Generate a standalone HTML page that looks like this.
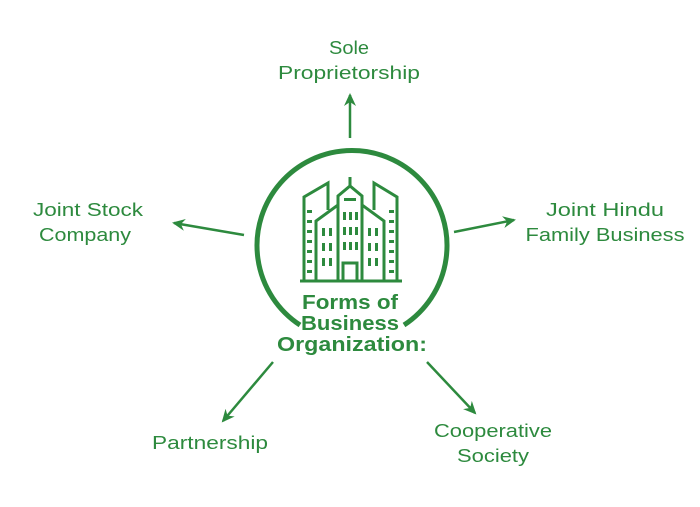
<!DOCTYPE html>
<html><head><style>
body{margin:0;background:#fff;}
svg{display:block}
text{font-family:"Liberation Sans",sans-serif;fill:#2d8a3e;}
</style></head><body>
<svg width="700" height="507" viewBox="0 0 700 507">
<defs><marker id="a" markerWidth="14" markerHeight="14" refX="11" refY="7" orient="auto" markerUnits="userSpaceOnUse"><path d="M0,1 L13,7 L0,13 L4,7 z" fill="#2d8a3e"/></marker></defs>
<g stroke="#2d8a3e" stroke-width="2.5" fill="none">
<path d="M300,325 A95,95 0 1 1 404,325" stroke-width="5"/>
<line x1="350" y1="138" x2="350" y2="95" marker-end="url(#a)"/>
<line x1="244" y1="235" x2="174" y2="223" marker-end="url(#a)"/>
<line x1="454" y1="232" x2="514" y2="220" marker-end="url(#a)"/>
<line x1="273" y1="362" x2="223" y2="421" marker-end="url(#a)"/>
<line x1="427" y1="362" x2="475" y2="413" marker-end="url(#a)"/>
</g>
<g stroke="#2d8a3e" stroke-width="3" fill="none">
<path d="M304,281 V197 L328,183 V210"/>
<path d="M397,281 V197 L374,183 V210"/>
<path d="M316,281 V221 L338,205 V196 L350,186 L362,196 V205 L384,221 V281"/>
<line x1="350" y1="186" x2="350" y2="177"/>
<path d="M338,281 V205 M362,281 V205"/>
<line x1="300" y1="281" x2="402" y2="281"/>
<rect x="343" y="263" width="14" height="18"/>
</g>
<g fill="#2d8a3e">
<rect x="307" y="210" width="5" height="3"/><rect x="307" y="220" width="5" height="3"/><rect x="307" y="230" width="5" height="3"/><rect x="307" y="240" width="5" height="3"/><rect x="307" y="250" width="5" height="3"/><rect x="307" y="260" width="5" height="3"/><rect x="307" y="270" width="5" height="3"/>
<rect x="389" y="210" width="5" height="3"/><rect x="389" y="220" width="5" height="3"/><rect x="389" y="230" width="5" height="3"/><rect x="389" y="240" width="5" height="3"/><rect x="389" y="250" width="5" height="3"/><rect x="389" y="260" width="5" height="3"/><rect x="389" y="270" width="5" height="3"/>
<rect x="322" y="228" width="3" height="8"/><rect x="329" y="228" width="3" height="8"/><rect x="322" y="243" width="3" height="8"/><rect x="329" y="243" width="3" height="8"/><rect x="322" y="258" width="3" height="8"/><rect x="329" y="258" width="3" height="8"/>
<rect x="368" y="228" width="3" height="8"/><rect x="375" y="228" width="3" height="8"/><rect x="368" y="243" width="3" height="8"/><rect x="375" y="243" width="3" height="8"/><rect x="368" y="258" width="3" height="8"/><rect x="375" y="258" width="3" height="8"/>
<rect x="343" y="212" width="3" height="8"/><rect x="349" y="212" width="3" height="8"/><rect x="355" y="212" width="3" height="8"/>
<rect x="343" y="227" width="3" height="8"/><rect x="349" y="227" width="3" height="8"/><rect x="355" y="227" width="3" height="8"/>
<rect x="343" y="242" width="3" height="8"/><rect x="349" y="242" width="3" height="8"/><rect x="355" y="242" width="3" height="8"/>
<rect x="344" y="198" width="12" height="3"/>
</g>
<g font-weight="bold" font-size="20" text-anchor="middle" lengthAdjust="spacingAndGlyphs">
<text x="350" y="309" textLength="96" lengthAdjust="spacingAndGlyphs">Forms of</text>
<text x="350" y="330" textLength="98" lengthAdjust="spacingAndGlyphs">Business</text>
<text x="352" y="351" textLength="150" lengthAdjust="spacingAndGlyphs">Organization:</text>
</g>
<g font-size="18" text-anchor="middle">
<text x="349" y="54" textLength="40" lengthAdjust="spacingAndGlyphs">Sole</text><text x="349" y="79" textLength="142" lengthAdjust="spacingAndGlyphs">Proprietorship</text>
<text x="88" y="216" textLength="110" lengthAdjust="spacingAndGlyphs">Joint Stock</text><text x="85" y="241" textLength="92" lengthAdjust="spacingAndGlyphs">Company</text>
<text x="605" y="216" textLength="118" lengthAdjust="spacingAndGlyphs">Joint Hindu</text><text x="605" y="241" textLength="159" lengthAdjust="spacingAndGlyphs">Family Business</text>
<text x="210" y="449" textLength="116" lengthAdjust="spacingAndGlyphs">Partnership</text>
<text x="493" y="437" textLength="118" lengthAdjust="spacingAndGlyphs">Cooperative</text><text x="493" y="462" textLength="72" lengthAdjust="spacingAndGlyphs">Society</text>
</g>
</svg>
</body></html>
